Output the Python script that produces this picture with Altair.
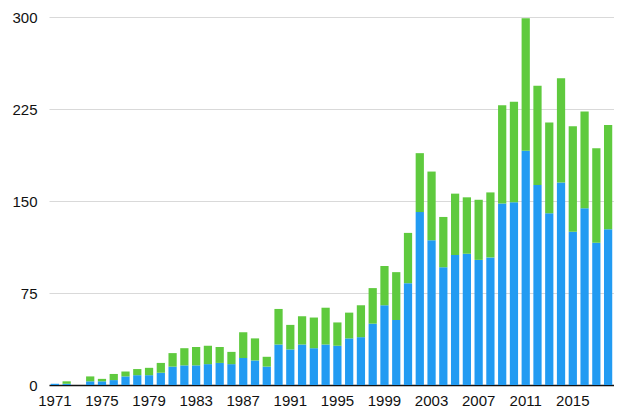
import altair as alt
import pandas as pd

years = list(range(1971, 2019))
blue = [1, 1, 0, 3, 3, 4, 7, 8, 8, 10,
        15, 16, 16, 17, 18, 17, 22, 20, 15, 33,
        29, 33, 30, 33, 32, 38, 39, 50, 65, 53,
        83, 141, 118, 96, 106, 107, 102, 104, 148, 149,
        191, 163, 140, 165, 125, 144, 116, 127]
green = [0, 2, 0, 4, 2, 5, 4, 5, 6, 8,
         11, 14, 15, 15, 13, 10, 21, 18, 8, 29,
         20, 23, 25, 30, 19, 21, 26, 29, 32, 39,
         41, 48, 56, 41, 50, 46, 49, 53, 80, 82,
         108, 81, 74, 85, 86, 79, 77, 85]
series = ["Series 1", "Series 2"]
colors = ["#229BF2", "#5FCA3E"]
x_ticks = list(range(1971, 2019, 4))
y_ticks = [0, 75, 150, 225, 300]

rows = []
for i, y in enumerate(years):
    rows.append({"year": y, "series": series[0], "value": blue[i], "ord": 0})
    rows.append({"year": y, "series": series[1], "value": green[i], "ord": 1})
df = pd.DataFrame(rows)

FONT = "Liberation Sans"

chart = alt.Chart(df).mark_bar().encode(
    x=alt.X("year:O",
            scale=alt.Scale(paddingInner=0.3, paddingOuter=0.15),
            axis=alt.Axis(values=x_ticks, title=None, labelAngle=0, ticks=False,
                          domainColor="#111111", domainWidth=1.5,
                          labelFont=FONT, labelFontSize=15, labelColor="#111111",
                          labelPadding=8)),
    y=alt.Y("value:Q", stack="zero",
            scale=alt.Scale(domain=[0, 300], nice=False),
            axis=alt.Axis(values=y_ticks, title=None, ticks=False, domain=False,
                          gridColor="#d9d9d9", gridWidth=1,
                          labelFont=FONT, labelFontSize=15, labelColor="#111111",
                          labelPadding=12)),
    color=alt.Color("series:N", scale=alt.Scale(domain=series, range=colors), legend=None),
    order=alt.Order("ord:Q"),
).properties(
    width=565, height=368,
    autosize=alt.AutoSizeParams(type="none"),
    padding={"left": 41, "top": 9, "right": 0, "bottom": 22},
).configure_view(stroke=None)

chart.save("out.html", embed_options={"renderer": "svg", "actions": False})
